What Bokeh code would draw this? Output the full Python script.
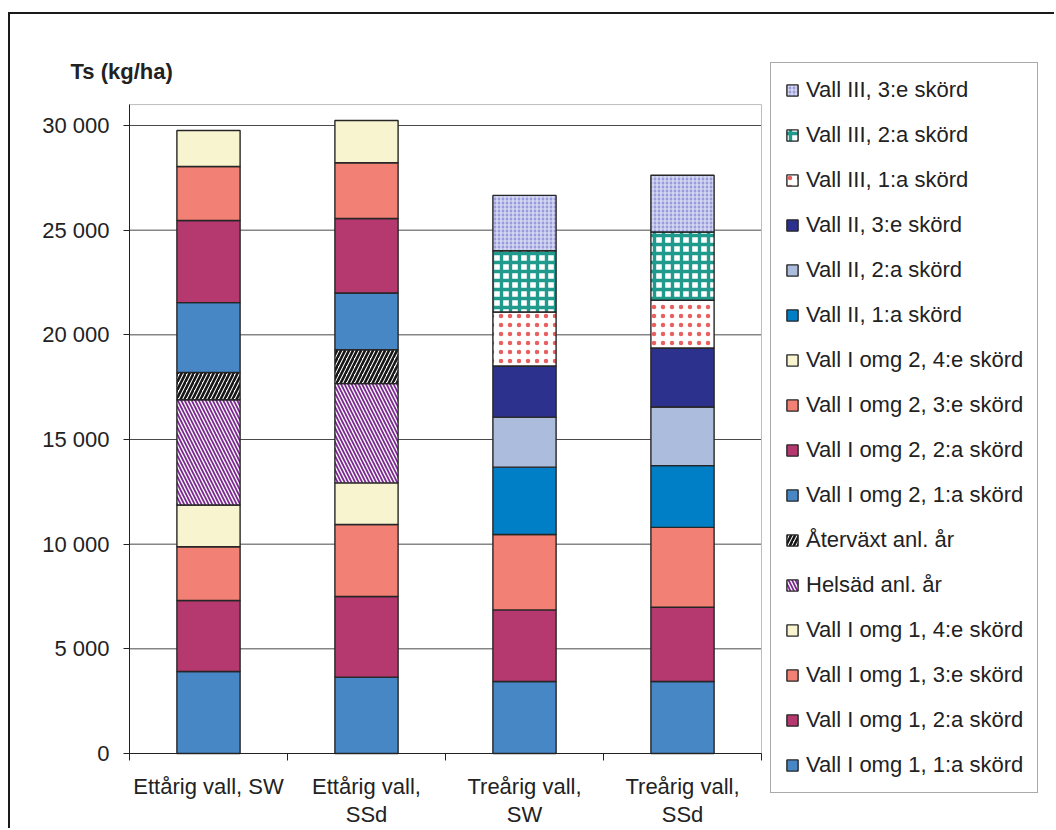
import numpy as np
from bokeh.plotting import figure
from bokeh.models import FixedTicker, Legend, LegendItem, Label
from bokeh.embed import file_html
from bokeh.resources import INLINE

# ---------------- data ----------------
categories = ["Ettårig vall, SW", "Ettårig vall,\nSSd", "Treårig vall,\nSW", "Treårig vall,\nSSd"]

series_names = [
    "Vall I omg 1, 1:a skörd",
    "Vall I omg 1, 2:a skörd",
    "Vall I omg 1, 3:e skörd",
    "Vall I omg 1, 4:e skörd",
    "Helsäd anl. år",
    "Återväxt anl. år",
    "Vall I omg 2, 1:a skörd",
    "Vall I omg 2, 2:a skörd",
    "Vall I omg 2, 3:e skörd",
    "Vall I omg 2, 4:e skörd",
    "Vall II, 1:a skörd",
    "Vall II, 2:a skörd",
    "Vall II, 3:e skörd",
    "Vall III, 1:a skörd",
    "Vall III, 2:a skörd",
    "Vall III, 3:e skörd",
]

# values per series for [Ettårig SW, Ettårig SSd, Treårig SW, Treårig SSd]
omg1_1 = [3920, 3650, 3440, 3440]
omg1_2 = [3390, 3850, 3420, 3550]
omg1_3 = [2570, 3440, 3600, 3810]
omg1_4 = [1990, 1990, 0, 0]
helsad = [5030, 4740, 0, 0]
aterv = [1300, 1620, 0, 0]
omg2_1 = [3340, 2710, 0, 0]
omg2_2 = [3920, 3560, 0, 0]
omg2_3 = [2580, 2660, 0, 0]
omg2_4 = [1720, 2020, 0, 0]
vall2_1 = [0, 0, 3220, 2950]
vall2_2 = [0, 0, 2390, 2800]
vall2_3 = [0, 0, 2440, 2820]
vall3_1 = [0, 0, 2580, 2280]
vall3_2 = [0, 0, 2930, 3260]
vall3_3 = [0, 0, 2640, 2710]

series_values = [omg1_1, omg1_2, omg1_3, omg1_4, helsad, aterv,
                 omg2_1, omg2_2, omg2_3, omg2_4,
                 vall2_1, vall2_2, vall2_3, vall3_1, vall3_2, vall3_3]

y_ticks = [0, 5000, 10000, 15000, 20000, 25000, 30000]
y_tick_labels = ["0", "5 000", "10 000", "15 000", "20 000", "25 000", "30 000"]
y_top = 31000

# ---------------- geometry (pixels) ----------------
CANVAS_W, CANVAS_H = 1046, 816       # canvas starts at page (10, 14)
PX_X0 = 119                          # canvas x of category axis start
PX_PER_CAT = 158
PX_Y0 = 739                          # canvas y (from top) of value 0
PX_PER_UNIT = 628 / 30000

def cx(px):   # canvas px -> data x
    return (px - PX_X0) / PX_PER_CAT

def cy(py):   # canvas px (from top) -> data y
    return (PX_Y0 - py) / PX_PER_UNIT

# ---------------- styles ----------------
C_BLUE = "#4787c6"
C_MAG = "#b5386f"
C_SAL = "#f28075"
C_CREAM = "#f8f4d0"

styles = [
    dict(fill_color=C_BLUE),
    dict(fill_color=C_MAG),
    dict(fill_color=C_SAL),
    dict(fill_color=C_CREAM),
    dict(fill_color="white", hatch_pattern="left_diagonal_line", hatch_color="#7b2a90",
         hatch_weight=1.8, hatch_scale=7),
    dict(fill_color="white", hatch_pattern="right_diagonal_line", hatch_color="#161616",
         hatch_weight=2.6, hatch_scale=8),
    dict(fill_color=C_BLUE),
    dict(fill_color=C_MAG),
    dict(fill_color=C_SAL),
    dict(fill_color=C_CREAM),
    dict(fill_color="#007fc6"),
    dict(fill_color="#abbcdd"),
    dict(fill_color="#2d318e"),
    dict(fill_color="white", hatch_pattern="dot", hatch_color="#e86060",
         hatch_weight=0.3, hatch_scale=9),
    dict(fill_color="white", hatch_pattern="cross", hatch_color="#1f9a8c",
         hatch_weight=3.4, hatch_scale=9),
    dict(fill_color="#9a9ddb", hatch_pattern="cross", hatch_color="#e2e4f6",
         hatch_weight=1.2, hatch_scale=4),
]

FONT = "Liberation Sans"
FS = "22px"
TXT = "#222222"

p = figure(width=CANVAS_W, height=CANVAS_H, title=None,
           x_range=(cx(0), cx(CANVAS_W)), y_range=(cy(CANVAS_H), cy(0)),
           output_backend="svg", toolbar_location=None,
           min_border_left=0, min_border_right=0, min_border_top=0, min_border_bottom=0)
p.styles = {"border-left": "2px solid #1a1a1a", "border-top": "2px solid #1a1a1a",
            "margin-top": "12px", "margin-left": "8px",
            "margin-bottom": "-40px", "margin-right": "-40px"}

p.background_fill_color = "white"
p.border_fill_color = "white"
p.outline_line_color = None
p.xgrid.grid_line_color = None
p.ygrid.grid_line_color = None

n = len(categories)

# horizontal gridlines within the plot area
p.segment(x0=[0] * (len(y_ticks) - 1), x1=[n] * (len(y_ticks) - 1),
          y0=y_ticks[1:], y1=y_ticks[1:], line_color="#4a4a4a", line_width=1)
# plot area border
p.quad(left=[0], right=[n], bottom=[0], top=[y_top], fill_color=None,
       line_color="#bdbdbd", line_width=1)

x_centers = np.arange(n) + 0.5
bottoms = np.zeros(n)
renderers = []
for name, vals, st in zip(series_names, series_values, styles):
    vals = np.array(vals, dtype=float)
    mask = vals > 0
    r = p.vbar(x=x_centers[mask], bottom=bottoms[mask], top=(bottoms + vals)[mask], width=0.4,
               line_color="#262626", line_width=1.4, **st)
    renderers.append((name, r))
    bottoms = bottoms + vals

# axes drawn at fixed data locations inside the canvas
p.yaxis.fixed_location = 0
p.yaxis.bounds = (0, y_top)
p.yaxis.ticker = FixedTicker(ticks=y_ticks, minor_ticks=[])
p.yaxis.major_label_overrides = dict(zip(y_ticks, y_tick_labels))
p.yaxis.major_tick_out = 6
p.yaxis.major_tick_in = 0
p.yaxis.minor_tick_out = 0
p.yaxis.major_label_standoff = 14
p.yaxis.axis_line_color = TXT
p.yaxis.major_tick_line_color = TXT
p.yaxis.major_label_text_font = FONT
p.yaxis.major_label_text_font_size = FS
p.yaxis.major_label_text_color = TXT

p.xaxis.fixed_location = 0
p.xaxis.bounds = (0, n)
p.xaxis.ticker = FixedTicker(ticks=list(x_centers), minor_ticks=list(range(n + 1)))
p.xaxis.major_label_overrides = {float(c): lab for c, lab in zip(x_centers, categories)}
p.xaxis.major_tick_out = 0
p.xaxis.major_tick_in = 0
p.xaxis.minor_tick_out = 7
p.xaxis.minor_tick_in = 0
p.xaxis.minor_tick_line_color = TXT
p.xaxis.axis_line_color = TXT
p.xaxis.major_label_standoff = 13
p.xaxis.major_label_text_font = FONT
p.xaxis.major_label_text_font_size = FS
p.xaxis.major_label_text_color = TXT
p.xaxis.major_label_text_line_height = 1.13

# y-axis title
p.add_layout(Label(x=cx(60), y=cy(57), text="Ts (kg/ha)", text_baseline="alphabetic",
                   text_font=FONT, text_font_size=FS, text_font_style="bold", text_color=TXT))

# legend (reverse order, top item = last series)
items = [LegendItem(label=name, renderers=[r]) for name, r in reversed(renderers)]
legend = Legend(items=items, location=(760, 37), orientation="vertical",
                label_text_font=FONT, label_text_font_size=FS, label_text_color=TXT,
                glyph_width=14, glyph_height=14, label_height=25, label_standoff=7,
                spacing=19, padding=14, margin=0,
                border_line_color="#555555", border_line_width=1,
                background_fill_color="white", background_fill_alpha=1.0)
p.add_layout(legend)

open("out.html", "w").write(file_html(p, INLINE))
